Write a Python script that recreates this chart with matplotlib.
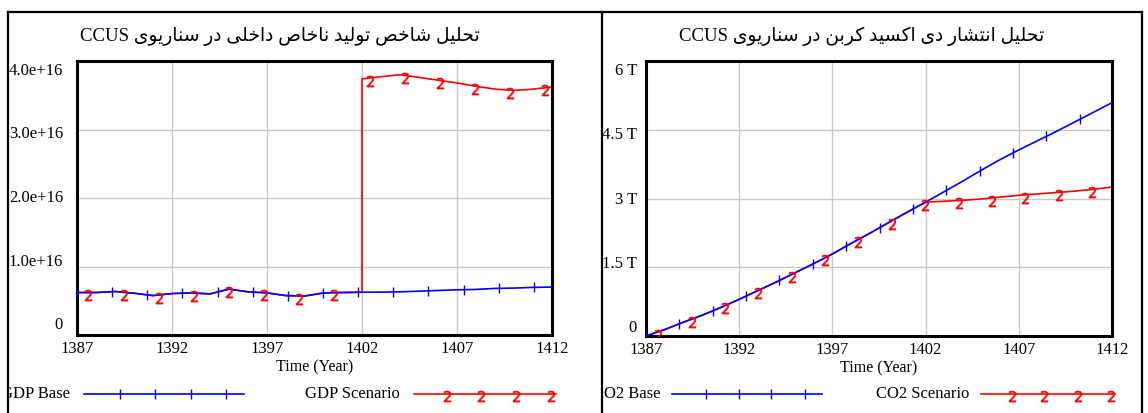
import numpy as np
import matplotlib
matplotlib.use('Agg')
import matplotlib.pyplot as plt
from matplotlib.lines import Line2D
from matplotlib.transforms import Bbox, TransformedBbox, ScaledTranslation
from matplotlib import font_manager, ft2font

# ---- data ----
years = np.arange(1387, 1413)
policy_years = np.arange(1402, 1413)

# GDP (units of 1e16)
gdp_base = [0.62, 0.62, 0.635, 0.61, 0.575, 0.605, 0.615, 0.60, 0.67, 0.63,
            0.615, 0.575, 0.57, 0.615, 0.62, 0.625, 0.625, 0.63, 0.64, 0.65,
            0.66, 0.665, 0.68, 0.685, 0.695, 0.70]
# scenario equals base until 1402, then jumps to these values
gdp_scenario_policy = [3.74, 3.77, 3.80, 3.76, 3.72, 3.68, 3.63,
                       3.59, 3.57, 3.59, 3.62]

# CO2 (units of T)
co2_base = [0.00, 0.14, 0.30, 0.45, 0.62, 0.80, 0.99, 1.18, 1.38, 1.58,
            1.79, 2.02, 2.24, 2.47, 2.70, 2.92, 3.15, 3.38, 3.62, 3.85,
            4.06, 4.26, 4.46, 4.67, 4.88, 5.09]
co2_scenario_policy = [2.92, 2.94, 2.96, 2.99, 3.03, 3.07, 3.10,
                       3.13, 3.16, 3.20, 3.25]

x_ticks = [1387, 1392, 1397, 1402, 1407, 1412]
gdp_yticks = [0, 1, 2, 3, 4]
gdp_ylabels = ['0', '1.0e+16', '2.0e+16', '3.0e+16', '4.0e+16']
co2_yticks = [0, 1.5, 3, 4.5, 6]
co2_ylabels = ['0', '1.5 T', '3 T', '4.5 T', '6 T']

title_gdp = 'تحلیل شاخص تولید ناخاص داخلی در سناریوی'
title_co2 = 'تحلیل انتشار دی اکسید کربن در سناریوی'

# ---- minimal Persian shaping (matplotlib does no joining / bidi) ----
FORMS = {
    'ا': (0xFE8D, 0xFE8E, None, None),
    'ب': (0xFE8F, 0xFE90, 0xFE91, 0xFE92),
    'ت': (0xFE95, 0xFE96, 0xFE97, 0xFE98),
    'ح': (0xFEA1, 0xFEA2, 0xFEA3, 0xFEA4),
    'خ': (0xFEA5, 0xFEA6, 0xFEA7, 0xFEA8),
    'د': (0xFEA9, 0xFEAA, None, None),
    'ر': (0xFEAD, 0xFEAE, None, None),
    'س': (0xFEB1, 0xFEB2, 0xFEB3, 0xFEB4),
    'ش': (0xFEB5, 0xFEB6, 0xFEB7, 0xFEB8),
    'ص': (0xFEB9, 0xFEBA, 0xFEBB, 0xFEBC),
    'ل': (0xFEDD, 0xFEDE, 0xFEDF, 0xFEE0),
    'ن': (0xFEE5, 0xFEE6, 0xFEE7, 0xFEE8),
    'و': (0xFEED, 0xFEEE, None, None),
    'ی': (0xFBFC, 0xFBFD, 0xFBFE, 0xFBFF),
    'ک': (0xFB8E, 0xFB8F, 0xFB90, 0xFB91),
}
cmap = ft2font.FT2Font(font_manager.findfont('DejaVu Sans')).get_charmap()
if 0xFBFC not in cmap:
    FORMS['ی'] = (0xFEEF, 0xFEF0, 0xFEF3, 0xFEF4)
if 0xFB8E not in cmap:
    FORMS['ک'] = (0xFED9, 0xFEDA, 0xFEDB, 0xFEDC)


def shape(text):
    out = []
    for i, ch in enumerate(text):
        if ch not in FORMS:
            out.append(ch)
            continue
        prev = text[i - 1] if i > 0 else ''
        nxt = text[i + 1] if i + 1 < len(text) else ''
        iso, fin, ini, med = FORMS[ch]
        jp = prev in FORMS and FORMS[prev][2] is not None
        jn = ini is not None and nxt in FORMS
        if jp and jn:
            code = med
        elif jp:
            code = fin
        elif jn:
            code = ini
        else:
            code = iso
        out.append(chr(code))
    return ''.join(out)


def visual(fa, latin):
    return latin + ' ' + shape(fa)[::-1]


W, H = 1148, 413
SERIF = 'Liberation Serif'
BLUE = '#0000ff'
RED = '#ff0000'
FS = 12

fig = plt.figure(figsize=(W / 100, H / 100), dpi=100)


def fx(px):
    return px / W


def fy(py):
    return 1 - py / H


def scenario_line(base, policy):
    # red line: follows the base run up to 1402, then the policy run from 1402
    n = len(years) - len(policy_years) + 1
    xs = np.concatenate([years[:n], policy_years])
    ys = np.concatenate([np.asarray(base)[:n], policy])
    return xs, ys


def setup_axes(ax, yticks, ylabels, ylim, offsets, ypad):
    ax.set_xlim(1387, 1412)
    ax.set_ylim(*ylim)
    ax.set_xticks(x_ticks)
    ax.set_xticklabels([str(t) for t in x_ticks], family=SERIF, fontsize=FS)
    ax.set_yticks(yticks)
    ax.set_yticklabels(ylabels, family=SERIF, fontsize=FS)
    ax.tick_params(length=0)
    ax.tick_params(axis='x', pad=4)
    ax.tick_params(axis='y', pad=ypad)
    ax.grid(True, color='#c8c8c8', lw=1.0)
    ax.set_axisbelow(True)
    for sp in ax.spines.values():
        sp.set_linewidth(2.2)
        sp.set_color('black')
    for lab, dy in zip(ax.get_yticklabels(), offsets):
        lab.set_transform(lab.get_transform() +
                          ScaledTranslation(0, dy / 100, fig.dpi_scale_trans))
    ax.set_xlabel('Time (Year)', family=SERIF, fontsize=11.5, labelpad=2)


def draw_runs(ax, base, policy, step, red_start, red_drop):
    sx, sy = scenario_line(base, policy)
    ax.plot(sx, sy, color=RED, lw=1.2, zorder=2)
    ax.plot(years, base, color=BLUE, lw=1.2, zorder=3)
    bx = np.arange(1387, 1412.01, step)
    ax.plot(bx, np.interp(bx, years, base), ls='none', marker='|', ms=7,
            mew=1.0, color=BLUE, zorder=4)
    rx = np.arange(red_start, 1412.01, step)
    ry = np.where(rx < 1402, np.interp(rx, years, base),
                  np.interp(rx, policy_years, policy))
    ax.plot(rx, ry - red_drop, ls='none', marker='$2$', ms=8, mew=0.4,
            color=RED, zorder=5)


# ---- left: GDP ----
ax1 = fig.add_axes([fx(77), 1 - 335 / H, fx(552) - fx(77), (335 - 61) / H])
draw_runs(ax1, gdp_base, gdp_scenario_policy, 1.85, 1387.6, 0.04)
setup_axes(ax1, gdp_yticks, gdp_ylabels, (0, 4), [12, 7, 2, -3, -8], 10)

# ---- right: CO2 ----
ax2 = fig.add_axes([fx(646), 1 - 336 / H, fx(1112) - fx(646), (336 - 61) / H])
draw_runs(ax2, co2_base, co2_scenario_policy, 1.79, 1387.66, 0.06)
setup_axes(ax2, co2_yticks, co2_ylabels, (0, 6), [10, 5.5, 1, -3.5, -8], 6.5)

# ---- titles ----
fig.text(fx(280), fy(36), visual(title_gdp, 'CCUS'), ha='center', va='center',
         fontsize=13.5, family=[SERIF, 'DejaVu Sans'])
fig.text(fx(862), fy(36), visual(title_co2, 'CCUS'), ha='center', va='center',
         fontsize=13.5, family=[SERIF, 'DejaVu Sans'])

# ---- legends (Vensim style: name, then line with markers) ----
clip_left = TransformedBbox(Bbox([[fx(9), 0], [fx(601), 1]]), fig.transFigure)
clip_right = TransformedBbox(Bbox([[fx(603), 0], [fx(1141), 1]]), fig.transFigure)


def legend_item(name, x_text, x0, x1, marks, color, marker, clip):
    t = fig.text(fx(x_text), fy(394), name, ha='right', va='center',
                 family=SERIF, fontsize=FS)
    t.set_clip_box(clip)
    t.set_clip_on(True)
    fig.add_artist(Line2D([fx(x0), fx(x1)], [fy(394), fy(394)], color=color,
                          lw=1.2, transform=fig.transFigure))
    is_tick = marker == '|'
    dy = 0 if is_tick else 2
    fig.add_artist(Line2D([fx(m) for m in marks], [fy(394 + dy)] * len(marks),
                          ls='none', marker=marker, ms=7 if is_tick else 8,
                          mew=1.0 if is_tick else 0.4, color=color,
                          transform=fig.transFigure))


legend_item('GDP Base', 70, 84, 244, [120, 155, 191, 226], BLUE, '|', clip_left)
legend_item('GDP Scenario', 400, 414, 556, [447, 481, 516, 551], RED, '$2$', clip_left)
legend_item('CO2 Base', 660, 672, 822, [706, 739, 771, 805], BLUE, '|', clip_right)
legend_item('CO2 Scenario', 969, 981, 1115, [1012, 1044, 1078, 1111], RED, '$2$', clip_right)

# ---- table frame around both panels ----
frame_kw = dict(color='black', lw=1.6, transform=fig.transFigure, zorder=10)
fig.add_artist(Line2D([fx(8), fx(1142)], [fy(12), fy(12)], **frame_kw))
for xp in (8, 602, 1142):
    fig.add_artist(Line2D([fx(xp), fx(xp)], [fy(12), 0], **frame_kw))

fig.savefig('out.png', dpi=100)
